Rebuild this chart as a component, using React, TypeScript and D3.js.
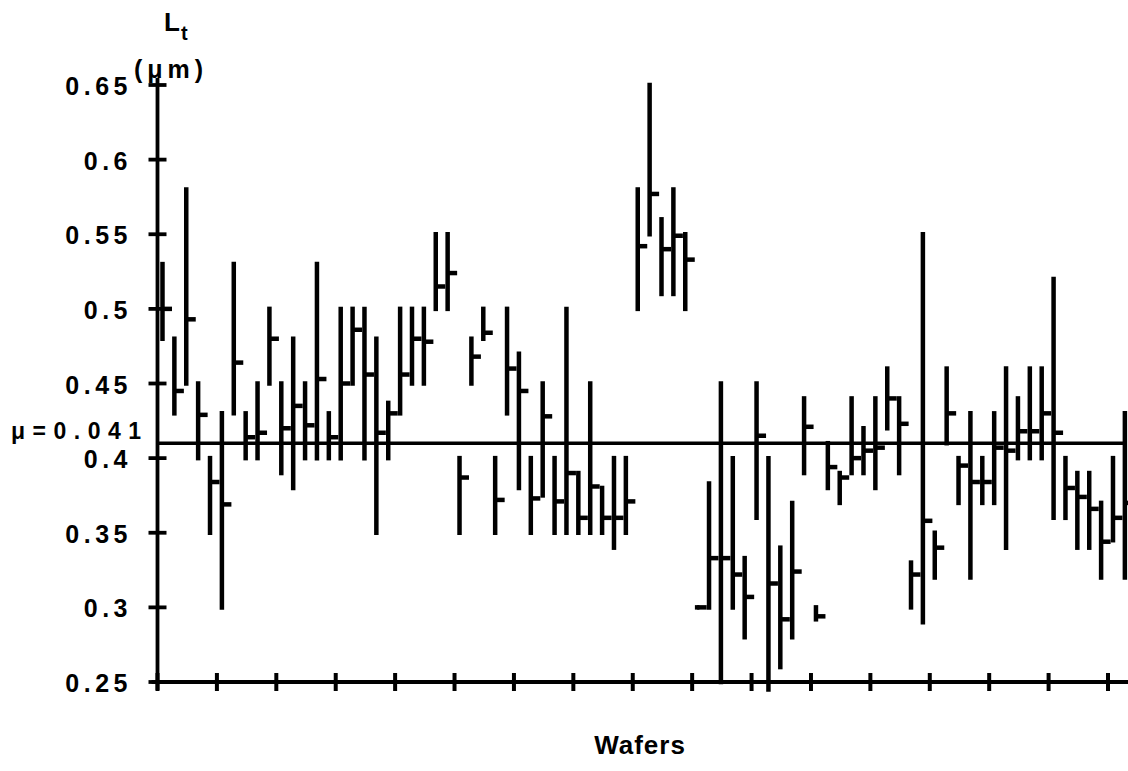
import React from "react";
import * as d3 from "d3";

// ---- Data ----
const waferIds: number[] = d3.range(1, 83);

const lowValues: number[] = [
  0.48, 0.43, 0.45, 0.40, 0.35, 0.30, 0.43, 0.40, 0.40, 0.45,
  0.39, 0.38, 0.40, 0.40, 0.40, 0.40, 0.45, 0.40, 0.35, 0.40,
  0.43, 0.45, 0.45, 0.50, 0.50, 0.35, 0.45, 0.48, 0.35, 0.43,
  0.38, 0.35, 0.375, 0.35, 0.35, 0.35, 0.35, 0.35, 0.34, 0.35,
  0.50, 0.55, 0.51, 0.51, 0.50, 0.30, 0.30, 0.25, 0.30, 0.28,
  0.36, 0.245, 0.26, 0.28, 0.39, 0.292, 0.38, 0.37, 0.39, 0.39,
  0.38, 0.42, 0.39, 0.30, 0.29, 0.32, 0.41, 0.37, 0.32, 0.37,
  0.37, 0.34, 0.40, 0.40, 0.40, 0.36, 0.36, 0.34, 0.34, 0.32,
  0.345, 0.32,
];

const highValues: number[] = [
  0.53, 0.48, 0.58, 0.45, 0.40, 0.43, 0.53, 0.43, 0.45, 0.50,
  0.45, 0.48, 0.45, 0.53, 0.43, 0.50, 0.50, 0.50, 0.48, 0.437,
  0.50, 0.50, 0.50, 0.55, 0.55, 0.40, 0.48, 0.50, 0.40, 0.50,
  0.47, 0.40, 0.45, 0.40, 0.50, 0.39, 0.45, 0.38, 0.40, 0.40,
  0.58, 0.65, 0.56, 0.58, 0.55, 0.30, 0.383, 0.45, 0.40, 0.333,
  0.45, 0.40, 0.34, 0.37, 0.44, 0.30, 0.41, 0.39, 0.44, 0.42,
  0.44, 0.46, 0.44, 0.33, 0.55, 0.35, 0.46, 0.40, 0.43, 0.40,
  0.43, 0.46, 0.44, 0.46, 0.46, 0.52, 0.40, 0.39, 0.39, 0.37,
  0.40, 0.43,
];

const meanValues: number[] = [
  0.50, 0.445, 0.493, 0.429, 0.384, 0.369, 0.464, 0.414, 0.417, 0.48,
  0.42, 0.435, 0.422, 0.453, 0.414, 0.45, 0.486, 0.456, 0.417, 0.43,
  0.456, 0.48, 0.478, 0.515, 0.524, 0.387, 0.468, 0.484, 0.372, 0.46,
  0.445, 0.373, 0.428, 0.371, 0.39, 0.36, 0.381, 0.36, 0.36, 0.371,
  0.542, 0.577, 0.54, 0.549, 0.533, 0.30, 0.333, 0.333, 0.322, 0.307,
  0.415, 0.316, 0.292, 0.324, 0.421, 0.294, 0.394, 0.387, 0.40, 0.405,
  0.407, 0.44, 0.423, 0.322, 0.358, 0.34, 0.43, 0.395, 0.384, 0.384,
  0.407, 0.405, 0.418, 0.418, 0.43, 0.417, 0.38, 0.374, 0.366, 0.344,
  0.36, 0.37,
];

const yTickValues: number[] = [0.25, 0.3, 0.35, 0.4, 0.45, 0.5, 0.55, 0.6, 0.65];
const yTickLabels: string[] = ["0.25", "0.3", "0.35", "0.4", "0.45", "0.5", "0.55", "0.6", "0.65"];
const xTickValues: number[] = d3.range(0, 81, 5);
const grandMean = 0.41;
const grandMeanLabel = "μ=0.041";
const xTitle = "Wafers";

export default function App() {
  const W = 1128;
  const H = 771;
  const y = d3.scaleLinear().domain([0.25, 0.65]).range([682, 85]);
  const x = d3.scaleLinear().domain([0, 80]).range([157.5, 1108]);
  const axisX = x(0);
  const axisY = y(0.25);
  const pos = (i: number) => x(i - 0.58);
  const font = "'Liberation Sans', Arial, Helvetica, sans-serif";

  return (
    <svg
      width={W}
      height={H}
      style={{ position: "absolute", left: 0, top: 0, background: "#fff" }}
      fontFamily={font}
    >
      <rect x={0} y={0} width={W} height={H} fill="#fff" />
      {/* grand mean line */}
      <line x1={axisX} x2={x(82 - 0.58)} y1={y(grandMean)} y2={y(grandMean)} stroke="#000" strokeWidth={3.5} />
      <text x={11} y={y(grandMean) - 4} fontSize={23} fontWeight="bold" letterSpacing={7.5}>
        {grandMeanLabel}
      </text>

      {/* bars */}
      {waferIds.map((id, k) => {
        const cx = pos(id);
        return (
          <g key={id}>
            <line
              x1={cx}
              x2={cx}
              y1={y(lowValues[k])}
              y2={y(highValues[k])}
              stroke="#000"
              strokeWidth={4.5}
              strokeLinecap="square"
            />
            <line
              x1={cx}
              x2={cx + 9.5}
              y1={y(meanValues[k])}
              y2={y(meanValues[k])}
              stroke="#000"
              strokeWidth={4.5}
            />
          </g>
        );
      })}

      {/* y axis */}
      <line x1={axisX} x2={axisX} y1={78} y2={690} stroke="#000" strokeWidth={3.8} />
      {yTickValues.map((v, k) => (
        <g key={v}>
          <line x1={axisX - 9} x2={axisX + 9} y1={y(v)} y2={y(v)} stroke="#000" strokeWidth={3.8} />
          <text
            x={132}
            y={y(v) + 1}
            dy="0.36em"
            textAnchor="end"
            fontSize={25}
            fontWeight="bold"
            letterSpacing={4.5}
          >
            {yTickLabels[k]}
          </text>
        </g>
      ))}

      {/* x axis */}
      <line x1={axisX - 6} x2={W} y1={axisY} y2={axisY} stroke="#000" strokeWidth={3.8} />
      {xTickValues.map((v) => (
        <line key={v} x1={x(v)} x2={x(v)} y1={axisY - 9} y2={axisY + 9} stroke="#000" strokeWidth={4} />
      ))}

      {/* axis titles */}
      <text x={164} y={31} fontSize={26} fontWeight="bold">L</text>
      <text x={181} y={40} fontSize={20} fontWeight="bold">t</text>
      <text x={134} y={78} fontSize={25} fontWeight="bold" letterSpacing={5}>(μm)</text>
      <text x={640} y={754} textAnchor="middle" fontSize={26} fontWeight="bold" letterSpacing={1}>
        {xTitle}
      </text>
    </svg>
  );
}
